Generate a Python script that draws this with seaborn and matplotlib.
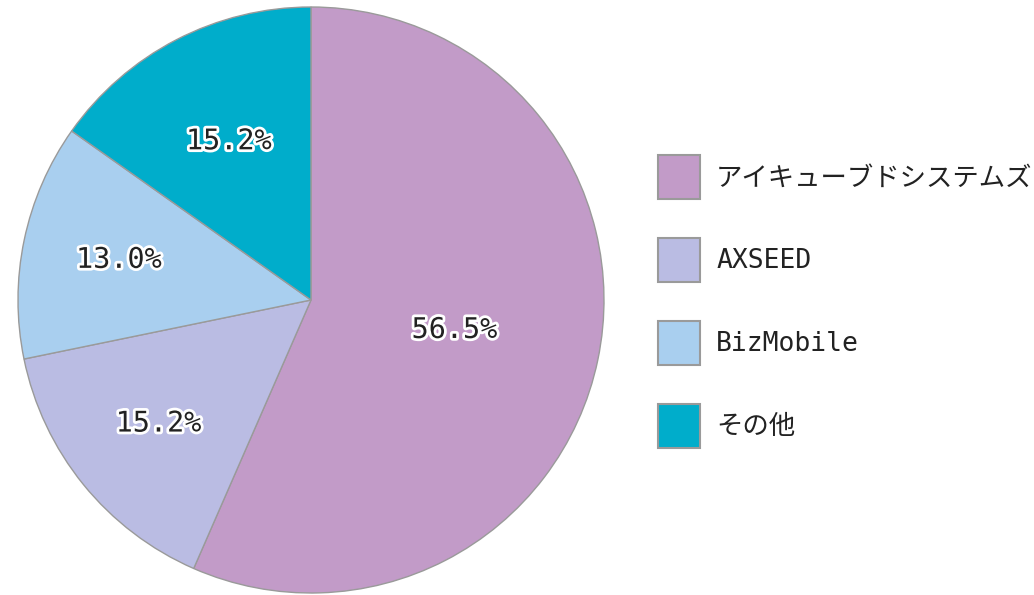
import numpy as np
import matplotlib
matplotlib.use("Agg")
import matplotlib.pyplot as plt
import matplotlib.patheffects as pe
from matplotlib.patches import Patch
import seaborn as sns

# ---- data ----
categories = ["アイキューブドシステムズ", "AXSEED", "BizMobile", "その他"]
shares = [56.5, 15.2, 13.0, 15.2]
colors = ["#C29BC8", "#BABCE3", "#A9CFEF", "#00ADCB"]
label_radius = [0.50, 0.67, 0.67, 0.61]

sns.set_theme(style="white")
plt.rcParams['font.family'] = ['DejaVu Sans Mono', 'Noto Sans CJK JP']

fig = plt.figure(figsize=(10.34, 5.95), dpi=100)
ax = fig.add_axes([18/1034, 2/595, 586/1034, 586/595])

wedges, texts, autotexts = ax.pie(
    shares, colors=colors, startangle=90, counterclock=False,
    autopct="%1.1f%%", radius=1.0,
    wedgeprops=dict(edgecolor="#9A9A9A", linewidth=1.0),
)
ax.set_xlim(-1.0, 1.0)
ax.set_ylim(-1.0, 1.0)
ax.set_aspect("equal")
ax.axis("off")

for w, t, v, r in zip(wedges, autotexts, shares, label_radius):
    th = np.deg2rad((w.theta1 + w.theta2) / 2)
    t.set_position((r * np.cos(th), r * np.sin(th)))
    t.set_text(f"{v:.1f}%")
    t.set_fontsize(20.5)
    t.set_color("#222222")
    t.set_family(['DejaVu Sans Mono'])
    t.set_path_effects([pe.withStroke(linewidth=4, foreground="white")])

handles = [Patch(facecolor=c, edgecolor="#9A9A9A", linewidth=1.5) for c in colors]
fig.legend(handles, categories, loc="center left",
           bbox_to_anchor=(658/1034, 0.4933), frameon=False,
           fontsize=19, handlelength=1.6, handleheight=2.15,
           labelspacing=1.5, handletextpad=0.6, borderpad=0, borderaxespad=0,
           labelcolor="#222222")

fig.savefig("out.png", dpi=100)
